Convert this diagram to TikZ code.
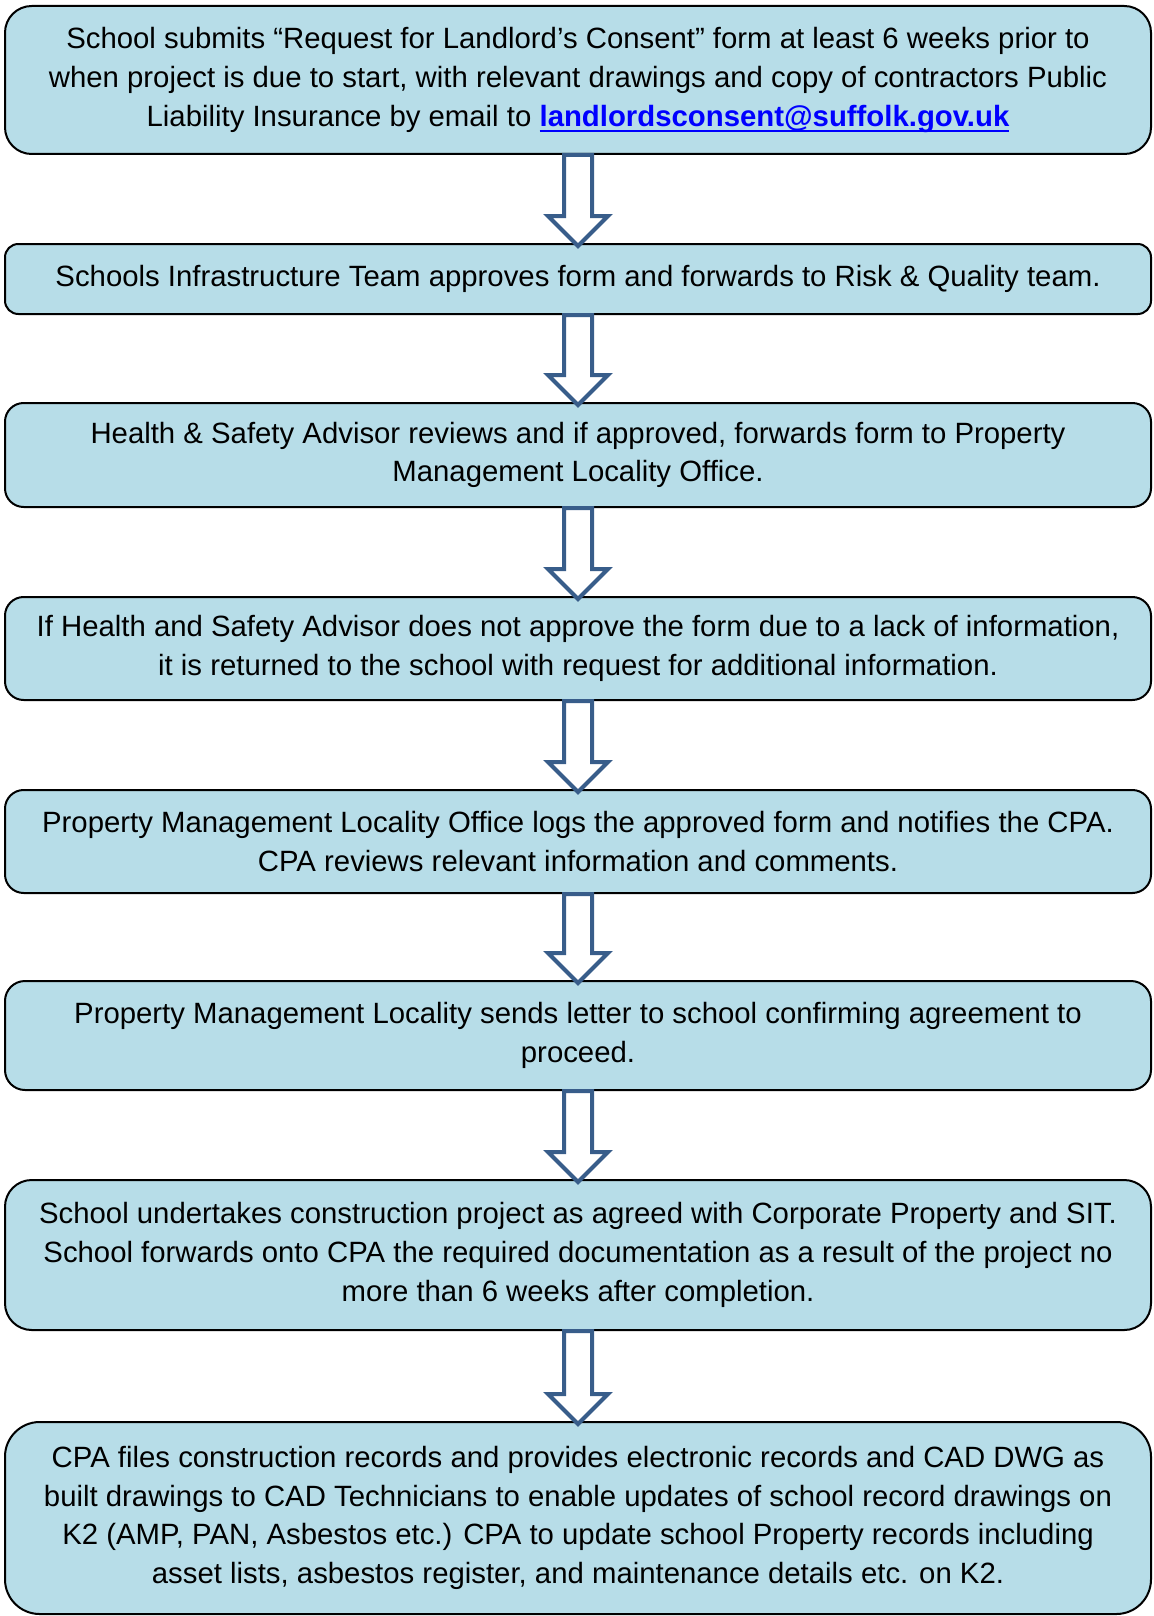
\documentclass[tikz,border=0pt]{standalone}
\usepackage{fontspec}
\setmainfont{Liberation Sans}
\usetikzlibrary{calc}
\definecolor{boxblue}{RGB}{183,221,232}
\definecolor{arrowblue}{RGB}{56,93,138}
\definecolor{linkblue}{RGB}{0,0,255}
\newcommand{\linkline}[1]{\setbox0\hbox{#1}\rlap{\vrule height -2.6pt depth 4.4pt width \wd0}\box0}
\begin{document}
\begin{tikzpicture}[x=0.75pt,y=-0.75pt,
  stepbox/.style={draw=black,line width=1.5pt,fill=boxblue,minimum width=859.5pt,inner sep=0pt,align=center,font=\fontsize{22}{29}\selectfont},
  blockarrow/.style={draw=arrowblue,line width=3pt,fill=white,line join=miter,
    to path={($(\tikztostart.south)+(-14,0)$) -- ($(\tikztotarget.north)+(-14,-27)$) -- ($(\tikztotarget.north)+(-30,-27)$) -- ($(\tikztotarget.north)+(0,3)$) -- ($(\tikztotarget.north)+(30,-27)$) -- ($(\tikztotarget.north)+(14,-27)$) -- ($(\tikztostart.south)+(14,0)$) -- cycle}}]
\useasboundingbox (0,0) rectangle (1153,1616);
\node[stepbox,minimum height=111pt,rounded corners=20pt] at (578,80) (s1) {School submits “Request for Landlord’s Consent” form at least 6 weeks prior to\\when project is due to start, with relevant drawings and copy of contractors Public\\Liability Insurance by email to \textcolor{linkblue}{\bfseries\linkline{landlordsconsent@suffolk.gov.uk}}};
\node[stepbox,minimum height=52.5pt,rounded corners=10pt] at (578,279) (s2) {Schools Infrastructure Team approves form and forwards to Risk \& Quality team.};
\node[stepbox,minimum height=78pt,rounded corners=14pt] at (578,455) (s3) {Health \& Safety Advisor reviews and if approved, forwards form to Property\\Management Locality Office.};
\node[stepbox,minimum height=77.25pt,rounded corners=14pt] at (578,648.5) (s4) {If Health and Safety Advisor does not approve the form due to a lack of information,\\it is returned to the school with request for additional information.};
\node[stepbox,minimum height=77.25pt,rounded corners=14pt] at (578,841.5) (s5) {Property Management Locality Office logs the approved form and notifies the CPA.\\CPA reviews relevant information and comments.};
\node[stepbox,minimum height=81.75pt,rounded corners=15pt] at (578,1035.5) (s6) {Property Management Locality sends letter to school confirming agreement to\\proceed.};
\node[stepbox,minimum height=112.5pt,rounded corners=20pt] at (578,1255) (s7) {School undertakes construction project as agreed with Corporate Property and SIT.\\School forwards onto CPA the required documentation as a result of the project no\\more than 6 weeks after completion.};
\node[stepbox,minimum height=144pt,rounded corners=26pt] at (578,1518) (s8) {CPA files construction records and provides electronic records and CAD DWG as\\built drawings to CAD Technicians to enable updates of school record drawings on\\K2 (AMP, PAN, Asbestos etc.) CPA to update school Property records including\\asset lists, asbestos register, and maintenance details etc. on K2.};
\path[] (s1) edge[blockarrow] (s2);
\path[] (s2) edge[blockarrow] (s3);
\path[] (s3) edge[blockarrow] (s4);
\path[] (s4) edge[blockarrow] (s5);
\path[] (s5) edge[blockarrow] (s6);
\path[] (s6) edge[blockarrow] (s7);
\path[] (s7) edge[blockarrow] (s8);
\end{tikzpicture}
\end{document}
